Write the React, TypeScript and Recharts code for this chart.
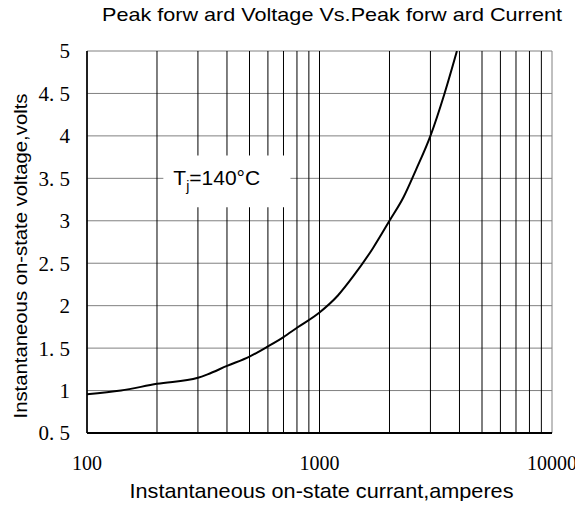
import {
  LineChart,
  CartesianGrid,
  Line,
  ReferenceArea,
  XAxis,
  YAxis,
  Label,
} from "recharts";

// forward current (A) and forward voltage (V)
const currents = [100, 140, 200, 300, 330, 400, 500, 600, 700, 800, 1000, 1200, 1400, 1700, 2000, 2300, 2600, 3000, 3450, 3900];
const voltages = [0.955, 1.0, 1.08, 1.15, 1.19, 1.29, 1.4, 1.52, 1.63, 1.74, 1.92, 2.12, 2.35, 2.68, 3.0, 3.28, 3.6, 4.0, 4.5, 5.0];

const xTicks = [100, 1000, 10000];
const xGrid = [100, 200, 300, 400, 500, 600, 700, 800, 900, 1000, 2000, 3000, 4000, 5000, 6000, 7000, 8000, 9000];
const yTicks = [0.5, 1, 1.5, 2, 2.5, 3, 3.5, 4, 4.5, 5];
const yTickLabels = ["0. 5", "1", "1. 5", "2", "2. 5", "3", "3. 5", "4", "4. 5", "5"];

const data = currents.map((c, i) => ({ current: c, voltage: voltages[i] }));

const sans = "'Liberation Sans', Arial, sans-serif";
const serif = "'Liberation Serif', 'Times New Roman', serif";

const TempLabel = (props: any) => {
  const { viewBox } = props;
  const x = viewBox.x + 10;
  const y = viewBox.y + 30;
  return (
    <text x={x} y={y} fontFamily={sans} fontSize={21} fill="#000">
      T
      <tspan fontSize={14} dy={6}>j</tspan>
      <tspan dy={-6}>=140°C</tspan>
    </text>
  );
};

const YTitle = (props: any) => {
  const { viewBox } = props;
  const cx = viewBox.x + 27;
  const cy = viewBox.y + viewBox.height / 2 + 14;
  return (
    <text
      x={cx}
      y={cy}
      transform={`rotate(-90, ${cx}, ${cy})`}
      textAnchor="middle"
      fontFamily={sans}
      fontSize={19}
      fill="#000"
      textLength={325}
      lengthAdjust="spacingAndGlyphs"
    >
      Instantaneous on-state voltage,volts
    </text>
  );
};

const XTitle = (props: any) => {
  const { viewBox } = props;
  const cx = viewBox.x + viewBox.width / 2 + 2;
  return (
    <text
      x={cx}
      y={498}
      textAnchor="middle"
      fontFamily={sans}
      fontSize={21}
      fill="#000"
      textLength={384}
      lengthAdjust="spacingAndGlyphs"
    >
      Instantaneous on-state currant,amperes
    </text>
  );
};

export default function App() {
  return (
    <div style={{ margin: -8, width: 583, height: 509 }}>
      <LineChart
        width={583}
        height={509}
        data={data}
        margin={{ top: 51, right: 31, bottom: 0, left: 0 }}
      >
        <text
          x={102}
          y={21}
          fontFamily={sans}
          fontSize={19}
          fill="#000"
          textLength={460}
          lengthAdjust="spacingAndGlyphs"
        >
          Peak forw ard Voltage Vs.Peak forw ard Current
        </text>
        <CartesianGrid vertical={false} horizontalValues={yTicks} stroke="#808080" strokeOpacity={1} />
        <CartesianGrid horizontal={false} verticalValues={xGrid} stroke="#000" strokeOpacity={1} />
        <CartesianGrid horizontal={false} verticalValues={[10000]} stroke="#808080" strokeOpacity={1} />
        <XAxis
          dataKey="current"
          type="number"
          scale="log"
          domain={[100, 10000]}
          ticks={xTicks}
          interval={0}
          allowDataOverflow
          height={76}
          tickSize={0}
          tickMargin={23}
          axisLine={{ stroke: "#000", strokeWidth: 2 }}
          tick={{ fontFamily: serif, fontSize: 20, fill: "#000" }}
        >
          <Label content={<XTitle />} />
        </XAxis>
        <YAxis
          type="number"
          domain={[0.5, 5]}
          ticks={yTicks}
          interval={0}
          allowDataOverflow
          width={87}
          tickSize={0}
          tickMargin={17}
          axisLine={{ stroke: "#000", strokeWidth: 1.5 }}
          tickFormatter={(v: number) => yTickLabels[yTicks.indexOf(v)] ?? String(v)}
          tick={{ fontFamily: serif, fontSize: 21, fill: "#000" }}
        >
          <Label content={<YTitle />} />
        </YAxis>
        <ReferenceArea
          x1={213}
          x2={750}
          y1={3.16}
          y2={3.77}
          fill="#fff"
          fillOpacity={1}
          stroke="none"
          label={<TempLabel />}
        />
        <Line
          type="monotone"
          dataKey="voltage"
          stroke="#000"
          strokeWidth={2}
          dot={false}
          isAnimationActive={false}
        />
      </LineChart>
    </div>
  );
}
